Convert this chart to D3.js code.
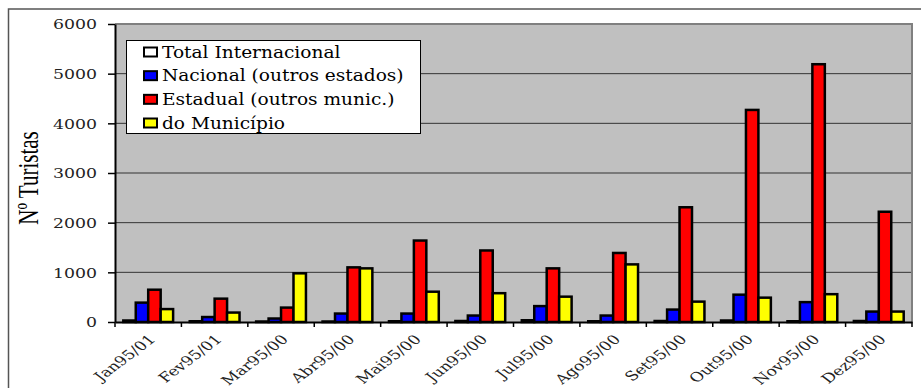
<!DOCTYPE html>
<html>
<head>
<meta charset="utf-8">
<script src="https://cdn.jsdelivr.net/npm/d3@7"></script>
<style>
  html, body { margin: 0; padding: 0; background: #fff; }
  svg { display: block; }
</style>
</head>
<body>
<svg id="chart" width="921" height="388"></svg>
<script>
// Monthly tourist counts by origin
const categories = ["Jan95/01", "Fev95/01", "Mar95/00", "Abr95/00", "Mai95/00", "Jun95/00",
                    "Jul95/00", "Ago95/00", "Set95/00", "Out95/00", "Nov95/00", "Dez95/00"];
const seriesNames = ["Total Internacional", "Nacional (outros estados)", "Estadual (outros munic.)", "do Município"];
const internacional = [30, 15, 10, 10, 15, 20, 35, 15, 20, 30, 15, 20];
const nacional      = [390, 100, 70, 170, 170, 130, 320, 130, 250, 550, 400, 210];
const estadual      = [650, 470, 290, 1100, 1640, 1440, 1080, 1390, 2310, 4270, 5190, 2220];
const municipio     = [260, 190, 980, 1080, 610, 580, 510, 1160, 410, 490, 560, 210];
const yTicks = [0, 1000, 2000, 3000, 4000, 5000, 6000];
const yTitle = "Nº Turistas";

const seriesValues = [internacional, nacional, estadual, municipio];
const seriesColors = ["#FFFFFF", "#0000FF", "#FF0000", "#FFFF00"];

const svg = d3.select("#chart");
const plot = { left: 115, right: 912, top: 24, bottom: 322 };
const SX = 1.33; // horizontal text stretch

// outer frame
svg.append("path")
  .attr("d", `M8.5,388 L8.5,9 L921,9`)
  .attr("fill", "none").attr("stroke", "#555").attr("stroke-width", 1.5);

const x0 = d3.scaleBand().domain(categories).range([plot.left, plot.right]).padding(0);
const x1 = d3.scaleBand().domain(seriesNames)
  .range([x0.bandwidth() * 0.125, x0.bandwidth() * 0.875]).padding(0);
const y = d3.scaleLinear().domain([0, 6000]).range([plot.bottom, plot.top]);

// plot background
svg.append("rect")
  .attr("x", plot.left).attr("y", plot.top)
  .attr("width", plot.right - plot.left).attr("height", plot.bottom - plot.top)
  .attr("fill", "#C0C0C0");

// gridlines
svg.append("g").selectAll("line")
  .data(yTicks.filter(d => d > 0 && d < 6000))
  .join("line")
  .attr("x1", plot.left).attr("x2", plot.right)
  .attr("y1", d => y(d)).attr("y2", d => y(d))
  .attr("stroke", "#333").attr("stroke-width", 1);

// plot border (top/right)
svg.append("path")
  .attr("d", `M${plot.left},${plot.top} L${plot.right},${plot.top} L${plot.right},${plot.bottom}`)
  .attr("fill", "none").attr("stroke", "#808080").attr("stroke-width", 2);

// bars
const rows = categories.map((c, i) => ({ cat: c, vals: seriesNames.map((s, k) => ({ s, k, v: seriesValues[k][i] })) }));
const groups = svg.append("g").selectAll("g")
  .data(rows).join("g")
  .attr("transform", d => `translate(${x0(d.cat)},0)`);
groups.selectAll("rect")
  .data(d => d.vals).join("rect")
  .attr("x", d => x1(d.s))
  .attr("width", x1.bandwidth())
  .attr("y", d => y(d.v))
  .attr("height", d => y(0) - y(d.v))
  .attr("fill", d => seriesColors[d.k])
  .attr("stroke", "#000").attr("stroke-width", 2.5);

// y axis
const yAxis = svg.append("g")
  .attr("transform", `translate(${plot.left},0)`)
  .call(d3.axisLeft(y).tickValues(yTicks).tickSize(7).tickSizeOuter(0).tickFormat(d3.format("d")));
yAxis.select(".domain").attr("stroke", "#000").attr("stroke-width", 2);
yAxis.selectAll(".tick line").attr("stroke", "#000").attr("stroke-width", 1.5);
yAxis.selectAll(".tick text")
  .attr("x", null).attr("dy", "0.36em")
  .attr("transform", `translate(-18,0) scale(${SX},1)`)
  .attr("font-family", "DejaVu Serif").attr("font-size", 13)
  .attr("fill", "#222");

// x axis
const xAxis = svg.append("g")
  .attr("transform", `translate(0,${plot.bottom})`)
  .call(d3.axisBottom(x0).tickSize(0).tickSizeOuter(0));
xAxis.select(".domain").attr("stroke", "#000").attr("stroke-width", 2);
xAxis.selectAll(".tick text")
  .attr("y", null).attr("dy", "0.35em")
  .attr("text-anchor", "end")
  .attr("transform", `translate(4,15) scale(${SX},1) rotate(-45)`)
  .attr("font-family", "DejaVu Serif").attr("font-size", 13)
  .attr("fill", "#222");

// boundary ticks between categories
const bounds = categories.map(c => x0(c)).concat([plot.right]);
svg.append("g").selectAll("line")
  .data(bounds).join("line")
  .attr("x1", d => d).attr("x2", d => d)
  .attr("y1", plot.bottom).attr("y2", plot.bottom + 5)
  .attr("stroke", "#000").attr("stroke-width", 1.5);

// y title
svg.append("text")
  .attr("transform", `translate(38,${(plot.top + plot.bottom) / 2 + 5}) scale(1.45,1) rotate(-90)`)
  .attr("text-anchor", "middle")
  .attr("font-family", "Liberation Serif").attr("font-size", 21)
  .attr("fill", "#000")
  .text(yTitle);

// legend
const legend = svg.append("g");
legend.append("rect")
  .attr("x", 126.5).attr("y", 40.5).attr("width", 294).attr("height", 93)
  .attr("fill", "#fff").attr("stroke", "#000").attr("stroke-width", 1);
const rowY = d3.scalePoint().domain(seriesNames).range([52, 123]);
const items = legend.selectAll("g.item").data(seriesNames).join("g").attr("class", "item");
items.append("rect")
  .attr("x", 144).attr("y", d => rowY(d) - 4.5)
  .attr("width", 13).attr("height", 9)
  .attr("fill", (d, i) => seriesColors[i])
  .attr("stroke", "#000").attr("stroke-width", 2);
items.append("text")
  .attr("transform", d => `translate(162,${rowY(d)}) scale(1.16,1)`)
  .attr("dy", "0.36em")
  .attr("font-family", "DejaVu Serif").attr("font-size", 16)
  .attr("fill", "#000")
  .text(d => d);
</script>
</body>
</html>
